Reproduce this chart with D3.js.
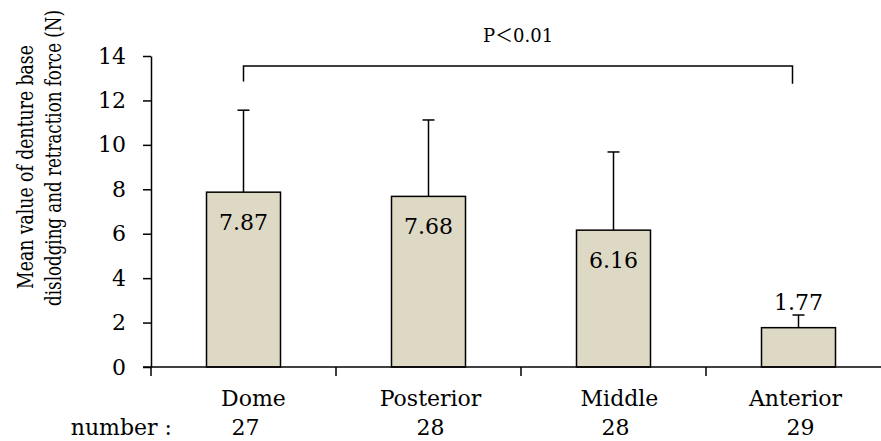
<!DOCTYPE html>
<html>
<head>
<meta charset="utf-8">
<script src="https://cdn.jsdelivr.net/npm/d3@7"></script>
<style>
  html, body { margin: 0; padding: 0; background: #fff; }
  svg text { font-family: "DejaVu Serif", "Noto Sans CJK JP", serif; fill: #000; }
</style>
</head>
<body>
<svg id="chart" width="881" height="441"></svg>
<script>
// Mean dislodging / retraction force by palatal region, one-sided SD bars.
const categories = ["Dome", "Posterior", "Middle", "Anterior"];
const means = [7.87, 7.68, 6.16, 1.77];
const sds = [3.69, 3.44, 3.52, 0.57];
const counts = [27, 28, 28, 29];
const yTicks = [0, 2, 4, 6, 8, 10, 12, 14];
const sigText = "P＜0.01";
const yTitle = ["Mean value of denture base", "dislodging and retraction force (N)"];

// small nudges for the category names, as placed in the original
const nameNudge = [10, 2, 6, -3];

const svg = d3.select("#chart");
const plotLeft = 151, plotRight = 891, plotTop = 56, plotBottom = 367;

const x = d3.scaleBand()
  .domain(categories)
  .range([plotLeft, plotRight])
  .paddingInner(0.6)
  .paddingOuter(0.3);

const y = d3.scaleLinear()
  .domain([0, 14])
  .range([plotBottom, plotTop]);

const cx = c => x(c) + x.bandwidth() / 2;
const rows = categories.map((c, i) => ({ c, mean: means[i], sd: sds[i], n: counts[i], nudge: nameNudge[i] }));

// y axis
const yAxis = svg.append("g")
  .attr("transform", `translate(${plotLeft},0)`)
  .call(d3.axisLeft(y).tickValues(yTicks).tickSize(8).tickPadding(17).tickSizeOuter(0));
yAxis.select(".domain").attr("stroke", "#000").attr("stroke-width", 1.5);
yAxis.selectAll(".tick line").attr("stroke", "#000").attr("stroke-width", 1.5);
yAxis.selectAll(".tick text")
  .attr("font-size", 22)
  .attr("font-family", "DejaVu Serif")
  .attr("fill", "#000");

// bars
svg.selectAll(".bar")
  .data(rows)
  .join("rect")
  .attr("class", "bar")
  .attr("x", d => x(d.c))
  .attr("width", x.bandwidth())
  .attr("y", d => y(d.mean))
  .attr("height", d => y(0) - y(d.mean))
  .attr("fill", "#ddd9c4")
  .attr("stroke", "#000")
  .attr("stroke-width", 1.5);

// error bars (upper only)
svg.selectAll(".err")
  .data(rows)
  .join("line")
  .attr("class", "err")
  .attr("x1", d => cx(d.c)).attr("x2", d => cx(d.c))
  .attr("y1", d => y(d.mean)).attr("y2", d => y(d.mean + d.sd))
  .attr("stroke", "#000").attr("stroke-width", 1.5);

svg.selectAll(".cap")
  .data(rows)
  .join("line")
  .attr("class", "cap")
  .attr("x1", d => cx(d.c) - 6).attr("x2", d => cx(d.c) + 6)
  .attr("y1", d => y(d.mean + d.sd)).attr("y2", d => y(d.mean + d.sd))
  .attr("stroke", "#000").attr("stroke-width", 1.5);

// x axis line with ticks at band boundaries
const step = x.step();
const edges = d3.range(categories.length + 1).map(i => x(categories[0]) - (step - x.bandwidth()) / 2 + i * step);
svg.append("line")
  .attr("x1", plotLeft - 8).attr("x2", 881)
  .attr("y1", y(0)).attr("y2", y(0))
  .attr("stroke", "#000").attr("stroke-width", 1.5);
svg.selectAll(".xtick")
  .data(edges)
  .join("line")
  .attr("class", "xtick")
  .attr("x1", d => d).attr("x2", d => d)
  .attr("y1", y(0)).attr("y2", y(0) + 9)
  .attr("stroke", "#000").attr("stroke-width", 1.5);

// value labels
svg.selectAll(".val")
  .data(rows)
  .join("text")
  .attr("class", "val")
  .attr("x", d => cx(d.c))
  .attr("y", d => d.mean < 3 ? y(d.mean + d.sd) - 5 : y(d.mean) + 38)
  .attr("text-anchor", "middle")
  .attr("font-size", 22)
  .text(d => d.mean.toFixed(2));

// category names and counts
svg.selectAll(".name")
  .data(rows)
  .join("text")
  .attr("class", "name")
  .attr("x", d => cx(d.c) + d.nudge)
  .attr("y", 406)
  .attr("text-anchor", "middle")
  .attr("font-size", 22)
  .text(d => d.c);

svg.selectAll(".count")
  .data(rows)
  .join("text")
  .attr("class", "count")
  .attr("x", d => cx(d.c) + 2)
  .attr("y", 435)
  .attr("text-anchor", "middle")
  .attr("font-size", 22)
  .text(d => d.n);

svg.append("text")
  .attr("x", 172)
  .attr("y", 435)
  .attr("text-anchor", "end")
  .attr("font-size", 22)
  .text("number :");

// significance bracket Dome vs Anterior
const bx1 = cx(categories[0]);
const bx2 = cx(categories[3]) - 6;
const bTop = y(13.55);
svg.append("path")
  .attr("d", `M${bx1},${y(12.85)}V${bTop}H${bx2}V${y(12.75)}`)
  .attr("fill", "none")
  .attr("stroke", "#000")
  .attr("stroke-width", 1.5);
svg.append("text")
  .attr("x", (bx1 + bx2) / 2)
  .attr("y", 42)
  .attr("text-anchor", "middle")
  .attr("font-size", 18)
  .text(sigText);

// y title, two lines; squeezed along the baseline to the original's length
const titleSpots = [{ x: 33, y: 167, len: 244 }, { x: 61, y: 158, len: 296 }];
yTitle.forEach((t, i) => {
  const s = titleSpots[i];
  const txt = svg.append("text")
    .attr("text-anchor", "middle")
    .attr("font-size", 22)
    .text(t);
  const k = s.len / txt.node().getComputedTextLength();
  txt.attr("transform", `translate(${s.x},${s.y}) rotate(-90) scale(${k},1)`);
});
</script>
</body>
</html>
